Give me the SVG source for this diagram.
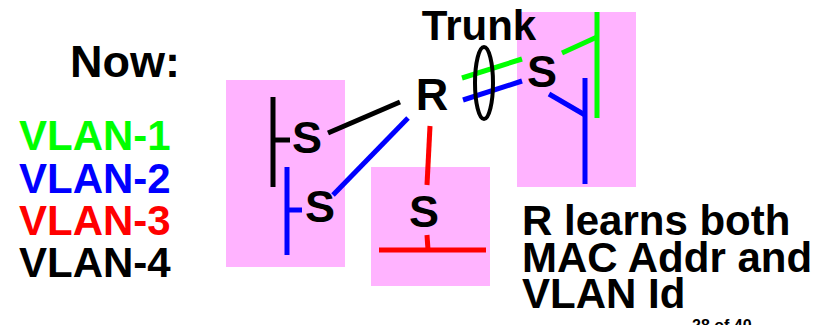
<svg xmlns="http://www.w3.org/2000/svg" width="836" height="325" viewBox="0 0 836 325">
<style>
text{font-family:"Liberation Sans",Arial,sans-serif;font-weight:bold}
.box{fill:#FFB3FF}
.n{font-size:45px;text-anchor:middle;fill:#000}
.l{stroke-width:5;fill:none}
.k{stroke:#000}.g{stroke:#00FF00}.b{stroke:#0000FF}.r{stroke:#FF0000}
.t{font-size:42px;fill:#000}
</style>
<rect width="836" height="325" fill="#fff"/>
<g id="boxes">
<rect class="box" x="226" y="80" width="119" height="187"/>
<rect class="box" x="371" y="167" width="119" height="119"/>
<rect class="box" x="517" y="12" width="119" height="175"/>
</g>
<g id="connectors">
<line class="l k" x1="328" y1="133" x2="400" y2="102"/>
<line class="l b" x1="333" y1="195" x2="408" y2="118"/>
<line class="l r" x1="430" y1="126" x2="427" y2="185"/>
<line class="l g" x1="462" y1="78" x2="522" y2="59"/>
<line class="l b" x1="463" y1="100" x2="522" y2="81"/>
<ellipse cx="484" cy="83" rx="9" ry="36" fill="none" stroke="#000" stroke-width="4"/>
</g>
<g id="s1">
<line class="l k" x1="273" y1="97" x2="273" y2="187"/>
<line class="l k" x1="273" y1="140" x2="290" y2="140"/>
<text class="n" x="307" y="153">S</text>
</g>
<g id="s2">
<line class="l b" x1="287" y1="167" x2="287" y2="255"/>
<line class="l b" x1="287" y1="210" x2="302" y2="210"/>
<text class="n" x="320" y="222">S</text>
</g>
<g id="s3">
<line class="l r" x1="427" y1="235" x2="428" y2="250"/>
<line class="l r" x1="379" y1="250" x2="486" y2="250"/>
<text class="n" x="424" y="227">S</text>
</g>
<g id="s4">
<line class="l g" x1="597" y1="12" x2="597" y2="118"/>
<line class="l g" x1="562" y1="53" x2="597" y2="37"/>
<line class="l b" x1="585" y1="78" x2="585" y2="184"/>
<line class="l b" x1="549" y1="94" x2="585" y2="115"/>
<text class="n" x="542" y="87">S</text>
</g>
<g id="router">
<text class="n" x="432" y="110">R</text>
</g>
<g id="labels">
<text class="t" x="479" y="40" text-anchor="middle">Trunk</text>
<text x="70" y="77" font-size="45">Now:</text>
<text class="t" x="19" y="150" fill="#00FF00" style="fill:#00FF00">VLAN-1</text>
<text class="t" x="19" y="193" style="fill:#0000FF">VLAN-2</text>
<text class="t" x="19" y="235" style="fill:#FF0000">VLAN-3</text>
<text class="t" x="19" y="277">VLAN-4</text>
<text class="t" x="522" y="235">R learns both</text>
<text class="t" x="522" y="272">MAC Addr and</text>
<text class="t" x="522" y="308">VLAN Id</text>
<text x="692" y="331" font-size="16">28 of 40</text>
</g>
</svg>
